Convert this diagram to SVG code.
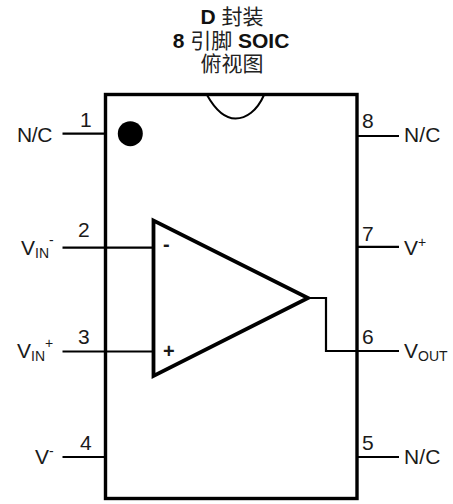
<svg xmlns="http://www.w3.org/2000/svg" width="453" height="504" viewBox="0 0 453 504">
<style>
text{font-family:"Liberation Sans","Noto Sans CJK SC",sans-serif;fill:#1a1a1a;font-size:21px}
.t{text-anchor:middle;fill:#222}
.b{font-weight:bold;fill:#111}
.s{font-size:14px}
.o{font-weight:bold;font-size:20px}
.w{fill:none;stroke:#000;stroke-width:2.2}
.k{fill:none;stroke:#000;stroke-width:3.4}
</style>
<rect width="453" height="504" fill="#fff"/>
<g id="title">
<text class="t" x="232" y="24"><tspan class="b">D</tspan> 封装</text>
<text class="t" x="231" y="48"><tspan class="b">8</tspan> 引脚 <tspan class="b">SOIC</tspan></text>
<text class="t" x="232" y="71">俯视图</text>
</g>
<g id="connectors">
<path class="w" d="M62.500 133.700H106M62.500 247.700H153M62.500 351.500H153M62.500 457H106"/>
<path class="w" d="M357 136H399M357 246.800H399M357 351H399M357 457H399"/>
<path class="w" d="M308 298H326V351H357"/>
</g>
<g id="package">
<rect class="k" x="105.500" y="94.500" width="251.500" height="404"/>
<path fill="none" stroke="#000" stroke-width="2" d="M207 95C216 111 225 118.500 235.500 118.500C246 118.500 257 111 264 95"/>
<circle cx="130.300" cy="133.700" r="12.500" fill="#000"/>
</g>
<g id="opamp">
<path fill="none" stroke="#000" stroke-width="3.800" stroke-linejoin="miter" d="M153.500 220.500V376L308 298Z"/>
<text class="o" x="163" y="251">-</text>
<text class="o" x="163" y="358">+</text>
</g>
<g id="pin1"><text x="17" y="142" textLength="35.500">N/C</text><text x="80" y="127">1</text></g>
<g id="pin2"><text x="21" y="255">V<tspan class="s" dy="3">IN</tspan><tspan class="s" dy="-13">-</tspan></text><text x="78" y="237">2</text></g>
<g id="pin3"><text x="17" y="358">V<tspan class="s" dy="3">IN</tspan><tspan class="s" dy="-13">+</tspan></text><text x="78" y="344">3</text></g>
<g id="pin4"><text x="35" y="464">V<tspan class="s" dy="-8">-</tspan></text><text x="80" y="450">4</text></g>
<g id="pin5"><text x="404" y="464" textLength="36.500">N/C</text><text x="362" y="450">5</text></g>
<g id="pin6"><text x="404" y="358">V<tspan class="s" dy="3">OUT</tspan></text><text x="362" y="344">6</text></g>
<g id="pin7"><text x="404" y="255">V<tspan class="s" dy="-8">+</tspan></text><text x="362" y="240.500">7</text></g>
<g id="pin8"><text x="404" y="142" textLength="36.500">N/C</text><text x="362" y="127.500">8</text></g>
</svg>
